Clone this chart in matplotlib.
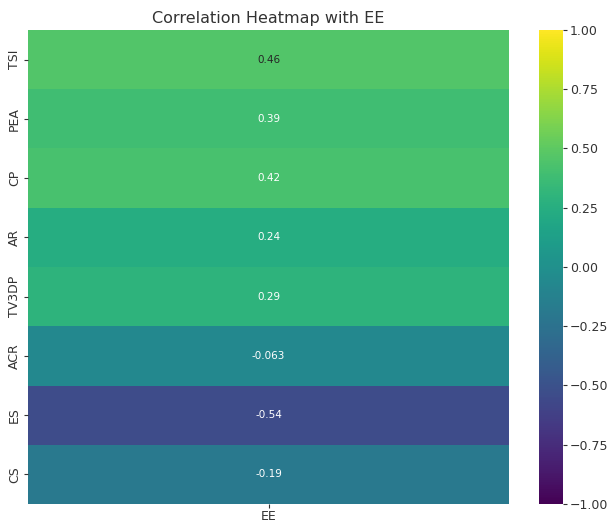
import matplotlib
matplotlib.use("Agg")
import matplotlib.pyplot as plt
import seaborn as sns
import pandas as pd
import numpy as np

features = ["TSI", "PEA", "CP", "AR", "TV3DP", "ACR", "ES", "CS"]
ee_corr = [0.46, 0.39, 0.42, 0.24, 0.29, -0.063, -0.54, -0.19]

df = pd.DataFrame({"EE": ee_corr}, index=features)

plt.rcParams['text.color'] = '#333333'
plt.rcParams['axes.labelcolor'] = '#333333'
plt.rcParams['xtick.color'] = '#333333'
plt.rcParams['ytick.color'] = '#333333'

W, H = 609, 523
fig = plt.figure(figsize=(W/100, H/100), dpi=100)
ax = fig.add_axes([28/W, (H-504)/H, (509-28)/W, (504-30)/H])
cax = fig.add_axes([539/W, (H-504)/H, (563-539)/W, (504-30)/H])
sns.heatmap(df, annot=True, cmap="viridis", vmin=-1, vmax=1, ax=ax, cbar_ax=cax,
            annot_kws={"fontsize": 7.5})
ax.set_title("Correlation Heatmap with EE", fontsize=11.5, pad=5)
ax.tick_params(axis='x', labelsize=9, length=3, pad=1)
ax.tick_params(axis='y', labelsize=9, length=3, pad=2)
cax.tick_params(labelsize=9, length=3, pad=2)
for sp in cax.spines.values():
    sp.set_visible(False)
fig.savefig("out.png", dpi=100)
